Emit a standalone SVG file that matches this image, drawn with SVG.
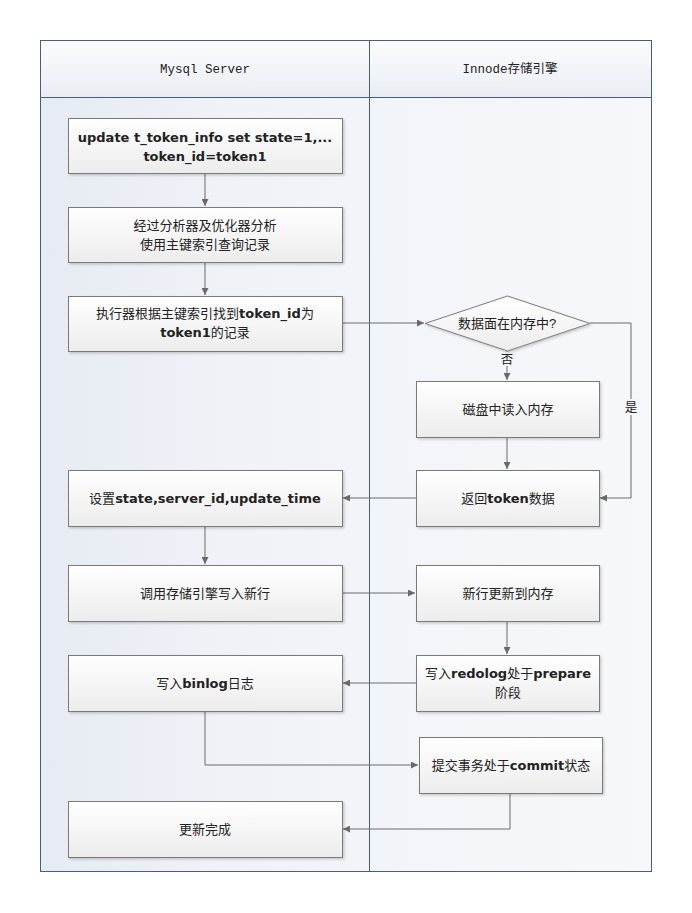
<svg xmlns="http://www.w3.org/2000/svg" width="692" height="913" viewBox="0 0 692 913">
<defs>
<linearGradient id="lane" x1="0" y1="0" x2="1" y2="0">
<stop offset="0" stop-color="#e6ebf3"/>
<stop offset="0.3" stop-color="#eff2f7"/>
<stop offset="1" stop-color="#f6f8fb"/>
</linearGradient>
<linearGradient id="hdr" x1="0" y1="0" x2="0" y2="1">
<stop offset="0" stop-color="#fbfcfd"/>
<stop offset="1" stop-color="#e9edf3"/>
</linearGradient>
<linearGradient id="box" x1="0" y1="0" x2="0" y2="1">
<stop offset="0" stop-color="#ffffff"/>
<stop offset="1" stop-color="#ececec"/>
</linearGradient>
<marker id="arr" viewBox="0 0 10 10" refX="10" refY="5" markerWidth="7" markerHeight="7" markerUnits="userSpaceOnUse" orient="auto">
<path d="M0,0 L10,5 L0,10 z" fill="#6a6a6a"/>
</marker>
<filter id="sh" x="-5%" y="-5%" width="115%" height="125%">
<feDropShadow dx="1.5" dy="1.5" stdDeviation="0.8" flood-color="#000" flood-opacity="0.18"/>
</filter>
</defs>
<style>
.nd{fill:url(#box);stroke:#7a7a7a;stroke-width:1;filter:url(#sh)}
.t{font-family:"Liberation Sans","Noto Sans CJK SC",sans-serif;font-size:13px;fill:#222;text-anchor:middle}
.b{font-family:"DejaVu Sans","Noto Sans CJK SC",sans-serif;font-weight:bold;font-size:13px}
.h{font-family:"Liberation Mono","Noto Sans CJK SC",monospace;font-size:12.5px;fill:#222;text-anchor:middle}
.c{fill:none;stroke:#6a6a6a;stroke-width:1;marker-end:url(#arr)}
.lb{font-family:"Noto Sans CJK SC",sans-serif;font-size:12.5px;fill:#222;text-anchor:middle}
</style>
<rect width="692" height="913" fill="#ffffff"/>
<g id="pool">
<rect x="40.5" y="40.5" width="611" height="831" fill="url(#lane)" stroke="#4a5d78" stroke-width="1"/>
<rect x="40.5" y="40.5" width="329" height="57" fill="url(#hdr)" stroke="#4a5d78"/>
<rect x="369.5" y="40.5" width="282" height="57" fill="url(#hdr)" stroke="#4a5d78"/>
<line x1="369.5" y1="97" x2="369.5" y2="871.5" stroke="#4a5d78"/>
<text class="h" x="205" y="73">Mysql Server</text>
<text class="h" x="510" y="73">Innode存储引擎</text>
</g>
<g id="connectors">
<path class="c" d="M205,173 V206"/>
<path class="c" d="M205,262 V295"/>
<path class="c" d="M342,323 H424"/>
<path class="c" d="M507,351 V380"/>
<path class="c" d="M590,323 H631 V498 H600"/>
<path class="c" d="M507,437 V469"/>
<path class="c" d="M416,498 H343"/>
<path class="c" d="M205,526 V564"/>
<path class="c" d="M342,593 H415"/>
<path class="c" d="M507,621 V654"/>
<path class="c" d="M416,683 H343"/>
<path class="c" d="M205,711 V765 H418"/>
<path class="c" d="M510,793 V829 H343"/>
<rect x="500" y="352" width="14" height="14" fill="#f4f6f9"/>
<text class="lb" x="507" y="364">否</text>
<rect x="624" y="399" width="15" height="16" fill="#f4f6f9"/>
<text class="lb" x="631" y="412">是</text>
</g>
<g id="n1">
<rect class="nd" x="68.5" y="118.5" width="274" height="55"/>
<text class="t b" x="205" y="142">update t_token_info set state=1,...</text>
<text class="t b" x="205" y="161">token_id=token1</text>
</g>
<g id="n2">
<rect class="nd" x="68.5" y="207.5" width="274" height="55"/>
<text class="t" x="205" y="230">经过分析器及优化器分析</text>
<text class="t" x="205" y="249">使用主键索引查询记录</text>
</g>
<g id="n3">
<rect class="nd" x="68.5" y="296.5" width="274" height="55"/>
<text class="t" x="205" y="318">执行器根据主键索引找到<tspan class="b">token_id</tspan>为</text>
<text class="t" x="205" y="337"><tspan class="b">token1</tspan>的记录</text>
</g>
<g id="n4">
<polygon points="425,323.5 507.5,296 590,323.5 507.5,351" fill="url(#box)" stroke="#7a7a7a" filter="url(#sh)"/>
<text class="t" x="507" y="328">数据面在内存中?</text>
</g>
<g id="n5">
<rect class="nd" x="416.5" y="381.5" width="183" height="56"/>
<text class="t" x="508" y="414">磁盘中读入内存</text>
</g>
<g id="n6">
<rect class="nd" x="416.5" y="470.5" width="183" height="56"/>
<text class="t" x="508" y="503">返回<tspan class="b">token</tspan>数据</text>
</g>
<g id="n7">
<rect class="nd" x="68.5" y="470.5" width="274" height="56"/>
<text class="t" x="205" y="503">设置<tspan class="b">state,server_id,update_time</tspan></text>
</g>
<g id="n8">
<rect class="nd" x="68.5" y="565.5" width="274" height="56"/>
<text class="t" x="205" y="598">调用存储引擎写入新行</text>
</g>
<g id="n9">
<rect class="nd" x="416.5" y="565.5" width="183" height="56"/>
<text class="t" x="508" y="598">新行更新到内存</text>
</g>
<g id="n10">
<rect class="nd" x="416.5" y="655.5" width="183" height="56"/>
<text class="t" x="508" y="678">写入<tspan class="b">redolog</tspan>处于<tspan class="b">prepare</tspan></text>
<text class="t" x="508" y="697">阶段</text>
</g>
<g id="n11">
<rect class="nd" x="68.5" y="655.5" width="274" height="56"/>
<text class="t" x="205" y="688">写入<tspan class="b">binlog</tspan>日志</text>
</g>
<g id="n12">
<rect class="nd" x="419.5" y="737.5" width="183" height="56"/>
<text class="t" x="511" y="770">提交事务处于<tspan class="b">commit</tspan>状态</text>
</g>
<g id="n13">
<rect class="nd" x="68.5" y="801.5" width="274" height="56"/>
<text class="t" x="205" y="834">更新完成</text>
</g>
</svg>
